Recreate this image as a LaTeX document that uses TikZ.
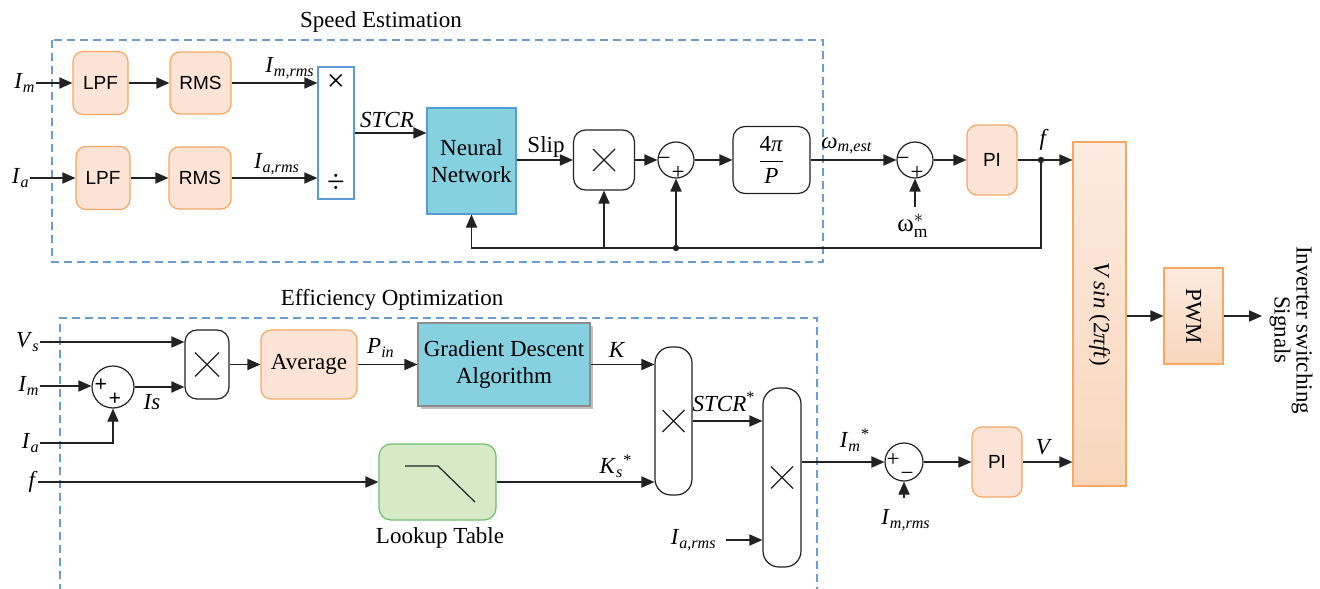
\documentclass[tikz,border=0pt]{standalone}
\usepackage{fontspec}
\usepackage{amsmath}
\setmainfont{Liberation Serif}
\setsansfont{Liberation Sans}
\usetikzlibrary{arrows.meta,shadows}
\definecolor{orF}{HTML}{FBE4D5}
\definecolor{orD}{HTML}{F4A862}
\definecolor{orT}{HTML}{FCEBDF}
\definecolor{orB}{HTML}{F8D6BC}
\definecolor{cyF}{HTML}{86D1E0}
\definecolor{cyD}{HTML}{5B9BD5}
\definecolor{grF}{HTML}{D6EAC8}
\definecolor{grD}{HTML}{6CC06C}
\definecolor{dashB}{HTML}{6C9CD4}
\definecolor{lnC}{HTML}{222222}
\newcommand\vi[2]{\textit{#1}\textsubscript{\textit{#2}}}
\newcommand\xcross[2]{\draw[ln] (#1) ++(-#2,-#2) -- ++(2*#2,2*#2) (#1) ++(#2,-#2) -- ++(-2*#2,2*#2);}
\begin{document}
\begin{tikzpicture}[x=0.5pt,y=-0.5pt,
 every node/.style={inner sep=0pt, font=\fontsize{11.5}{13.5}\selectfont},
 ln/.style={line width=0.6pt, draw=lnC},
 arr/.style={ln, -{Triangle[length=6.5pt,width=5.6pt]}},
 obox/.style={draw=orD, fill=orF, rounded corners=5pt, line width=0.6pt},
 sansf/.style={font=\sffamily\fontsize{9.5}{11}\selectfont},
 wbox/.style={draw=lnC, fill=white, rounded corners=6pt, line width=0.6pt},
 sumc/.style={circle, draw=lnC, line width=0.6pt},
 dashbox/.style={draw=dashB, dash pattern=on 4pt off 2.5pt, line width=0.6pt},
 sgn/.style={font=\fontsize{11.5}{12}\selectfont},
 gradbox/.style={draw=orD, top color=orT, bottom color=orB, line width=0.6pt}
]
\useasboundingbox (0,0) rectangle (1320,588);

% ---------------- Speed estimation ----------------
\node (tse) at (381,22) {Speed Estimation};
\draw[dashbox] (52,40) rectangle (823,262);

\node[obox,sansf,minimum width=27.5pt,minimum height=31.5pt] (lpf1) at (100.5,83) {LPF};
\node[obox,sansf,minimum width=27pt,minimum height=31.5pt] (lpf2) at (103,178) {LPF};
\node[obox,sansf,minimum width=30.5pt,minimum height=31pt] (rms1) at (200.5,83) {RMS};
\node[obox,sansf,minimum width=31pt,minimum height=31pt] (rms2) at (200,178) {RMS};

\node[anchor=east] (im1) at (36,83) {\vi{I}{m}};
\node[anchor=east] (ia1) at (30,178) {\vi{I}{a}};
\draw[arr] (im1.east) -- (lpf1.west);
\draw[arr] (ia1.east) -- (lpf2.west);
\draw[arr] (lpf1.east) -- (rms1.west);
\draw[arr] (lpf2.east) -- (rms2.west);

\node[draw=cyD, fill=white, line width=0.6pt, minimum width=18pt, minimum height=66pt] (dv) at (336,133) {};
\node[font=\fontsize{16}{16}\selectfont] (dvx) at (336,83) {×};
\node[font=\fontsize{16}{16}\selectfont] (dvd) at (336,183) {÷};
\draw[arr] (rms1.east) -- (rms1.east -| dv.west);
\draw[arr] (rms2.east) -- (rms2.east -| dv.west);
\node (limr) at (290,68) {\vi{I}{m,rms}};
\node (liar) at (277,164) {\vi{I}{a,rms}};

\node[draw=cyD, fill=cyF, line width=0.6pt, minimum width=44.5pt, minimum height=53pt, align=center] (nn) at (471.5,161) {Neural\\Network};
\draw[arr] (dv.east) -- (dv.east -| nn.west);
\node (lstcr) at (387,120) {\textit{STCR}};

\node[wbox, minimum width=30.5pt, minimum height=30pt] (m1) at (604,160) {};
\xcross{m1.center}{11}
\draw[arr] (nn.east |- m1) -- (m1.west);
\node (lslip) at (546,147) {Slip};

\node[sumc, minimum size=18pt] (s1) at (676,160) {};
\node[sgn] at (664,161) {−};
\node[sgn] at (678,173) {+};
\draw[arr] (m1.east) -- (s1.west);

\node[wbox, minimum width=38.5pt, minimum height=33.5pt] (fp) at (771.5,160) {$\dfrac{\text{4\textit{π}}}{\text{\textit{P}}}$};
\draw[arr] (s1.east) -- (fp.west);

\node[sumc, minimum size=18pt] (s2) at (915,160) {};
\node[sgn] at (903,161) {−};
\node[sgn] at (917,173) {+};
\draw[arr] (fp.east) -- (s2.west);
\node (lwest) at (847,146) {\vi{ω}{m,est}};
\coordinate (w0) at (915,207);
\draw[arr] (w0) -- (s2.south);
\node[font=\fontsize{12.5}{13}\selectfont] (lwref) at (913,226) {$\text{ω}^{*}_{\text{m}}$};

\node[obox,sansf,minimum width=25pt,minimum height=35pt] (pi1) at (992,160) {PI};
\draw[arr] (s2.east) -- (pi1.west);

\node[gradbox, minimum width=26.5pt, minimum height=172pt] (vs) at (1099.5,314) {};
\node[rotate=-90] (vstxt) at (vs) {\textit{V sin} (2\textit{πft})};

\coordinate (j1) at (1041,160);
\draw[ln] (pi1.east) -- (j1);
\draw[arr] (j1) -- (j1 -| vs.west);
\fill[lnC] (j1) circle (1.6pt);
\node (lf) at (1044,140) {\textit{f}};

\coordinate (fb) at (1041,248);
\coordinate (fbd) at (s1.south |- fb);
\draw[arr] (j1) -- (fb) -| (nn.south);
\draw[arr] (m1.south |- fb) -- (m1.south);
\draw[arr] (fbd) -- (s1.south);
\fill[lnC] (fbd) circle (1.6pt);

\node[gradbox, minimum width=29.5pt, minimum height=48pt] (pwm) at (1193.5,316) {};
\node[rotate=-90] (pwmtxt) at (pwm) {PWM};
\draw[arr] (vs.east |- pwm) -- (pwm.west);
\coordinate (out) at (1262,316);
\draw[arr] (pwm.east) -- (out);
\node[rotate=-90, align=center, font=\fontsize{11.5}{11}\selectfont] (inv) at (1291,330) {Inverter switching\\Signals};

% ---------------- Efficiency optimization ----------------
\node (teo) at (392,300) {Efficiency Optimization};
\draw[dashbox] (60,592) -- (60,318) -- (817,318) -- (817,592);

\node[wbox, minimum width=22pt, minimum height=34.5pt] (m2) at (207,364.5) {};
\xcross{m2.center}{12}
\node[sumc, minimum size=21pt] (s3) at (113,387) {};
\node[font=\bfseries\fontsize{11}{12}\selectfont] at (101,385) {+};
\node[font=\bfseries\fontsize{11}{12}\selectfont] at (115,399) {+};

\node[anchor=east] (vs2) at (40,342) {\vi{V}{s}};
\node[anchor=east] (im2) at (40,386) {\vi{I}{m}};
\node[anchor=east] (ia2) at (40,443) {\vi{I}{a}};
\node[anchor=east] (f2) at (38,482) {\textit{f}};

\draw[arr] (vs2.east) -- (vs2.east -| m2.west);
\draw[arr] (im2.east) -- (im2.east -| s3.west);
\draw[arr] (ia2.east) -| (s3.south);
\draw[arr] (s3.east) -- (s3.east -| m2.west);
\node (lis) at (152,402) {\textit{Is}};

\node[obox, minimum width=48pt, minimum height=34.5pt] (avg) at (309,364.5) {Average};
\draw[arr] (m2.east) -- (avg.west);

\node[draw=black!45, fill=cyF, line width=0.6pt, drop shadow={shadow xshift=1.6pt, shadow yshift=-1.6pt, fill=black!25, opacity=1}, minimum width=86pt, minimum height=41.5pt, align=center] (gda) at (504,364.5) {Gradient Descent\\Algorithm};
\draw[arr] (avg.east) -- (avg.east -| gda.west);
\node (lpin) at (381,348) {\vi{P}{in}};

\node[wbox, rounded corners=8pt, minimum width=18.5pt, minimum height=74pt] (b2) at (673.5,421) {};
\xcross{b2.center}{11}
\draw[arr] (gda.east) -- (gda.east -| b2.west);
\node (lk) at (617,350) {\textit{K}};

\node[draw=grD, fill=grF, rounded corners=6pt, line width=0.6pt, minimum width=58.5pt, minimum height=38pt] (lut) at (437.5,482) {};
\draw[ln] (405,466) -- (438,466) -- (475,502);
\node (llut) at (440,538) {Lookup Table};
\draw[arr] (f2.east) -- (f2.east -| lut.west);
\draw[arr] (lut.east) -- (lut.east -| b2.west);
\node (lks) at (616,466) {\vi{K}{s}\textsuperscript{*}};

\node[wbox, rounded corners=8pt, minimum width=19pt, minimum height=89.5pt] (b3) at (782,477.5) {};
\xcross{b3.center}{11}
\draw[arr] (b2.east) -- (b2.east -| b3.west);
\node (lstcr2) at (724,402) {\textit{STCR}\textsuperscript{*}};
\node[anchor=east] (iar2) at (717,540) {\vi{I}{a,rms}};
\coordinate (iar2s) at (726,540);
\draw[arr] (iar2s) -- (iar2s -| b3.west);

\node[sumc, minimum size=19pt] (s4) at (904,462) {};
\node[sgn] at (893,460) {+};
\node[sgn] at (907,476) {−};
\draw[arr] (b3.east |- s4) -- (s4.west);
\node (limst) at (855,440) {\vi{I}{m}\textsuperscript{*}};
\coordinate (i0) at (904,498);
\draw[arr] (i0) -- (s4.south);
\node (limr2) at (906,520) {\vi{I}{m,rms}};

\node[obox,sansf,minimum width=25pt,minimum height=35pt] (pi2) at (997,462) {PI};
\draw[arr] (s4.east) -- (pi2.west);
\draw[arr] (pi2.east) -- (pi2.east -| vs.west);
\node (lv) at (1044,447) {\textit{V}};
\end{tikzpicture}
\end{document}
